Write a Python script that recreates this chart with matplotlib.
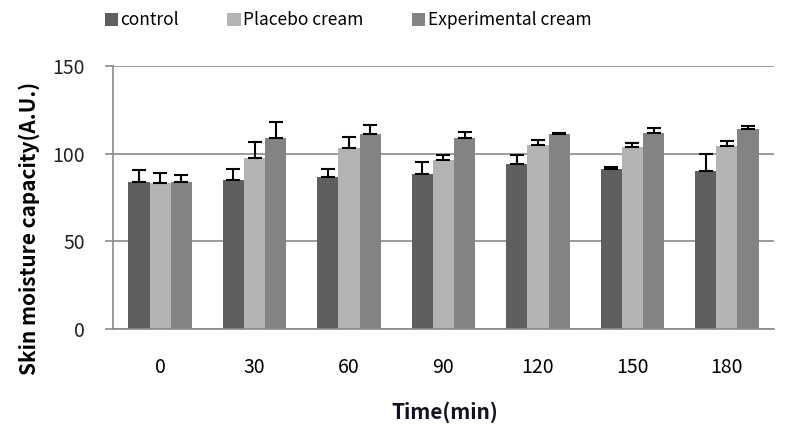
import numpy as np
import matplotlib
matplotlib.use('Agg')
import matplotlib.pyplot as plt

plt.rcParams['font.family'] = ['Noto Sans CJK KR', 'DejaVu Sans']

# data (bar height and upper error)
times = ['0', '30', '60', '90', '120', '150', '180']
series = ['control', 'Placebo cream', 'Experimental cream']
control = [84, 85, 86.5, 88.5, 94, 91, 90]
placebo = [83, 97.5, 103.5, 96.5, 105, 104, 104.5]
experimental = [84, 109, 111, 109, 111, 112, 114]
control_err = [6.5, 6.5, 5, 7, 5, 1.5, 10]
placebo_err = [6, 9, 6, 2.5, 3, 2, 3]
experimental_err = [4, 9, 5.3, 3.5, 1, 2.5, 1.5]

colors = ['#5f5f5f', '#b3b3b3', '#838383']

fig = plt.figure(figsize=(7.88, 4.4), dpi=100)
ax = fig.add_axes([113 / 788, 111 / 440, 661 / 788, 263 / 440])

x = np.arange(len(times))
w = 0.224
vals = [control, placebo, experimental]
errs = [control_err, placebo_err, experimental_err]
for i, (v, e) in enumerate(zip(vals, errs)):
    pos = x + (i - 1) * w
    ax.bar(pos, v, width=w, color=colors[i], label=series[i], zorder=2)
    ax.errorbar(pos, v, yerr=[np.zeros(len(e)), e], fmt='none', ecolor='black',
                elinewidth=1.5, capsize=5, capthick=1.5, zorder=3)

ax.set_xlim(-0.5, len(times) - 0.5)
ax.set_ylim(0, 150)
ax.set_yticks([0, 50, 100, 150])
ax.yaxis.grid(True, color='#8a8a8a', linewidth=1.2, zorder=0)
ax.set_axisbelow(True)
for s in ['top', 'right']:
    ax.spines[s].set_visible(False)
ax.spines['left'].set_color('#8a8a8a')
ax.spines['bottom'].set_color('#8a8a8a')
ax.spines['left'].set_linewidth(1.2)
ax.spines['bottom'].set_linewidth(1.2)

ax.set_xticks(x)
ax.set_xticklabels(times)
ax.tick_params(axis='x', length=0, pad=20, labelsize=14, colors='black')
ax.tick_params(axis='y', length=6, width=1.2, color='#8a8a8a', pad=14,
               labelsize=14, labelcolor='#222222')

fig.text(29 / 788, 1 - 228 / 440, 'Skin moisture capacity(A.U.)', rotation=90,
         ha='center', va='center', fontsize=15, fontweight='bold')
fig.text(445 / 788, 1 - 412 / 440, 'Time(min)', ha='center', va='center',
         fontsize=15, fontweight='bold', color='#111122')

fig.legend(loc='upper left', bbox_to_anchor=(89 / 788, 1.01), ncol=3, frameon=False,
           fontsize=12.5, handlelength=0.75, handleheight=0.75, handletextpad=0.15,
           columnspacing=2.8)

fig.savefig('out.png', dpi=100)
